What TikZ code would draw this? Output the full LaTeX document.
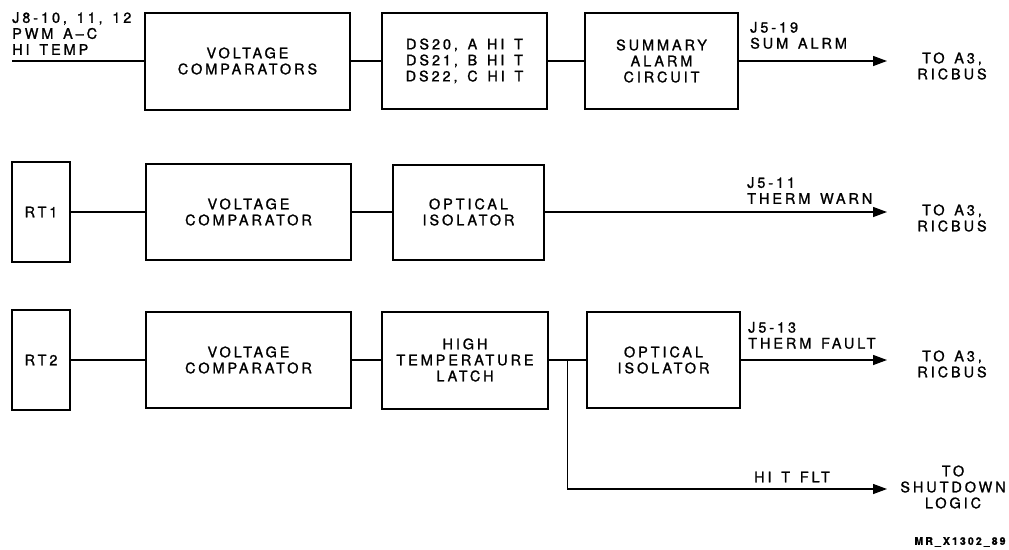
\documentclass[tikz,border=0pt]{standalone}
\usepackage{fontspec}
\setmainfont{TeX Gyre Heros}[LetterSpace=20, WordSpace=1.4, FakeBold=1.2]
\usetikzlibrary{arrows.meta,positioning,calc}
\newcommand{\lblfont}{\fontsize{14.5}{16}\selectfont}
\tikzset{
  box/.style={rectangle, draw, line width=2pt, minimum height=96pt, inner sep=0pt,
              outer sep=0pt, align=center, font=\lblfont},
  tag/.style={align=left, inner sep=0pt, font=\lblfont},
  dest/.style={align=center, inner sep=0pt, font=\lblfont},
  link/.style={line width=1.3pt},
  arr/.style={-{Triangle[length=14pt,width=10pt]}, line width=1.3pt}
}

\begin{document}
\begin{tikzpicture}[x=1pt, y=-1pt]
  \useasboundingbox (0,0) rectangle (1009,549);
  % summary alarm path
  \node[box, minimum width=205pt, minimum height=97pt, anchor=west] (vc1) at (145,61) {VOLTAGE\\COMPARATORS};
  \node[box, minimum width=165pt, right=32pt of vc1] (ds) {DS20, A HI T\\DS21, B HI T\\DS22, C HI T};
  \node[box, minimum width=153pt, right=38pt of ds] (sum) {SUMMARY\\ALARM\\CIRCUIT};
  \coordinate (in1) at (12,61);
  \coordinate (o1) at (887,61);
  \node[tag, anchor=south west] (inlbl) at (12,55) {J8-10, 11, 12\\PWM A\textendash C\\HI TEMP};
  \node[tag, anchor=south west] (lbl1) at (750,49) {J5-19\\SUM ALRM};
  \node[dest] (to1) at (952,66) {TO A3,\\RICBUS};
  \draw[link] (in1) -- (vc1); \draw[link] (vc1) -- (ds); \draw[link] (ds) -- (sum);
  \draw[arr] (sum) -- (o1);

  % thermal warning path
  \node[box, minimum width=58pt, minimum height=100pt, anchor=west] (rt1) at (12,212) {RT1};
  \node[box, minimum width=205pt, right=76pt of rt1] (vc2) {VOLTAGE\\COMPARATOR};
  \node[box, minimum width=151pt, minimum height=95pt, right=42pt of vc2] (oi2) {OPTICAL\\ISOLATOR};
  \coordinate (o2) at (887,212);
  \node[tag, anchor=south west] (lbl2) at (747,204) {J5-11\\THERM WARN};
  \node[dest] (to2) at (952,218) {TO A3,\\RICBUS};
  \draw[link] (rt1) -- (vc2); \draw[link] (vc2) -- (oi2);
  \draw[arr] (oi2) -- (o2);

  % thermal fault path
  \node[box, minimum width=58pt, minimum height=100pt, anchor=west] (rt2) at (12,360) {RT2};
  \node[box, minimum width=205pt, right=76pt of rt2] (vc3) {VOLTAGE\\COMPARATOR};
  \node[box, minimum width=166pt, minimum height=97pt, right=31pt of vc3] (htl) {HIGH\\TEMPERATURE\\LATCH};
  \node[box, minimum width=153pt, right=39pt of htl] (oi3) {OPTICAL\\ISOLATOR};
  \coordinate (jn) at ($(htl.east)!0.5!(oi3.west)$);
  \coordinate (o3) at (887,360);
  \coordinate (o4) at (887,489);
  \node[tag, anchor=south west] (lbl3) at (748,349) {J5-13\\THERM FAULT};
  \node[dest] (to3) at (952,364) {TO A3,\\RICBUS};
  \node[dest] (hitflt) at (792,477) {HI T FLT};
  \node[dest] (shut) at (953,487) {TO\\SHUTDOWN\\LOGIC};
  \draw[link] (rt2) -- (vc3); \draw[link] (vc3) -- (htl); \draw[link] (htl) -- (oi3);
  \draw[arr] (oi3) -- (o3);
  \draw[arr] (jn) |- (o4);

  \node[dest, font=\fontsize{10.5}{12}\selectfont\bfseries] (fig) at (960,542) {MR\_X1302\_89};
\end{tikzpicture}
\end{document}
